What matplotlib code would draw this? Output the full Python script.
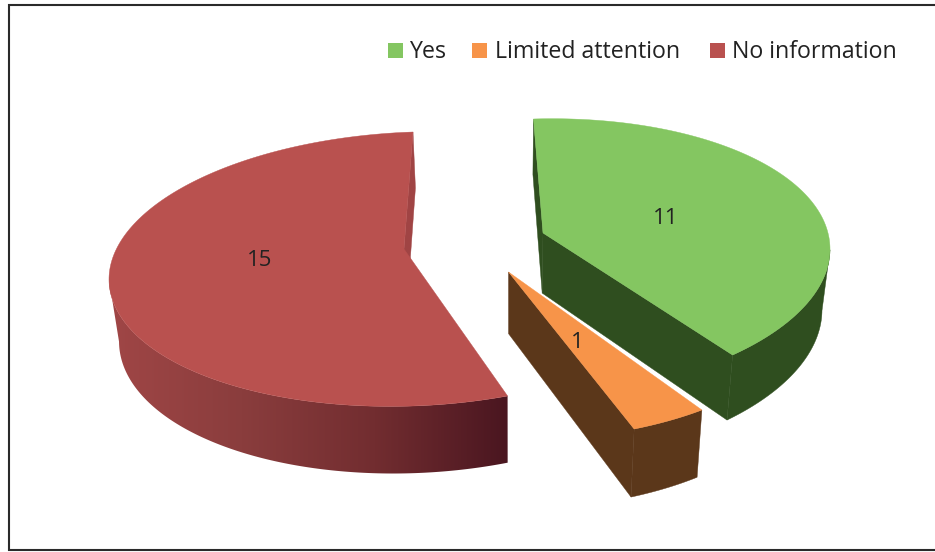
import numpy as np
import matplotlib
matplotlib.use('Agg')
import matplotlib.pyplot as plt
from matplotlib.colors import LinearSegmentedColormap
from matplotlib.patches import Polygon, Rectangle

# ============================================
# DATA
# ============================================
categories = ['Yes', 'Limited attention', 'No information']
values = [11, 1, 15]
top_colors = ['#84C661', '#F79449', '#B9514F']
side_colors = ['#2F4E1F', '#5B371A', None]

plt.rcParams['font.family'] = ['Open Sans', 'DejaVu Sans']

# ============================================
# 3D GEOMETRY per slice (pixel space of the picture)
# cx, cy, rx, ry: ellipse of the top face; k: tilt; b: perspective pull
# ============================================
geom = [
    dict(cx=533.5, cy=258, rx=296.5, ry=139, k=-0.03, b=0.126, apex=(543, 233), start_face=True),
    dict(cx=514, cy=314.5, rx=288, ry=126, k=0.0, b=0.107, apex=(508.5, 272), start_face=False),
    dict(cx=413, cy=269, rx=304, ry=137, k=-0.034, b=-0.05, apex=(404, 249), start_face=False),
]
label_pos = [(666, 218), (577, 342), (260, 261)]
red_side = LinearSegmentedColormap.from_list('red_side', ['#A04646', '#8A3D3D', '#722D30', '#4A1620'])
back_red = '#A04444'


def lower(x, y):
    # bottom face: slightly smaller and pushed down
    x = np.asarray(x, dtype=float)
    y = np.asarray(y, dtype=float)
    return 510 + 0.975 * (x - 510), y + 55.5 + 0.0405 * (y - 119.5)


def rim(g, theta):
    # data angle (clockwise from top) -> point on the ellipse
    z = np.sin(theta) + 1j * np.cos(theta)
    w = (z + 1j * g['b']) / (1 - 1j * g['b'] * z)
    t = np.arctan2(w.real, w.imag)
    x = g['cx'] + g['rx'] * np.sin(t)
    y = g['cy'] - g['ry'] * np.cos(t) + g['k'] * g['rx'] * np.sin(t)
    return x, y


fig = plt.figure(figsize=(9.35, 5.52), dpi=100)
ax = fig.add_axes([0, 0, 1, 1])

# frame, open on the right side
ax.plot([935, 8.5, 8.5, 935], [4.5, 4.5, 550, 550], color='#2A2A2A', lw=1.5, solid_joinstyle='miter')

edges = np.cumsum([0] + values) / sum(values) * 2 * np.pi

for i, g in enumerate(geom):
    theta = np.linspace(edges[i], edges[i + 1], 200)
    xs, ys = rim(g, theta)
    lx, ly = lower(xs, ys)
    ax_, ay_ = g['apex']
    lax, lay = lower(ax_, ay_)
    side = side_colors[i]
    face = side if side else back_red

    # cut faces
    if g['start_face']:
        ax.add_patch(Polygon([(xs[0], ys[0]), (lx[0], ly[0]), (lax, lay), (ax_, ay_)],
                             facecolor=face, edgecolor=face, lw=0.3, zorder=1))
    ax.add_patch(Polygon([(ax_, ay_), (xs[-1], ys[-1]), (lx[-1], ly[-1]), (lax, lay)],
                         facecolor=face, edgecolor=face, lw=0.3, zorder=1))

    # outer wall, only between the silhouette points that face the viewer
    lo = np.argmax(xs)
    hi = np.argmin(xs) if np.argmin(xs) > lo else len(xs) - 1
    wall = np.column_stack([np.r_[xs[lo:hi + 1], lx[lo:hi + 1][::-1]],
                            np.r_[ys[lo:hi + 1], ly[lo:hi + 1][::-1]]])
    if side:
        ax.add_patch(Polygon(wall, facecolor=side, edgecolor=side, lw=0.3, zorder=1))
    else:
        clip = Polygon(wall, transform=ax.transData, facecolor='none', edgecolor='none')
        ax.add_patch(clip)
        gradient = np.linspace(0, 1, 256).reshape(1, -1)
        img = ax.imshow(gradient, extent=(109, 507.5, 480, 270), cmap=red_side, aspect='auto', zorder=1)
        img.set_clip_path(clip)

    # top face
    ax.add_patch(Polygon(np.column_stack([np.r_[ax_, xs], np.r_[ay_, ys]]),
                         facecolor=top_colors[i], edgecolor=top_colors[i], lw=0.3, zorder=2))

for (x, y), v in zip(label_pos, values):
    ax.text(x, y, str(v), fontsize=16, color='#222222', ha='center', va='center', zorder=3)

# ============================================
# LEGEND
# ============================================
swatch_x = [388, 472, 710]
text_x = [409, 495, 732]
for name, c, sx, tx in zip(categories, top_colors, swatch_x, text_x):
    ax.add_patch(Rectangle((sx, 43), 15, 15, facecolor=c, edgecolor='none', zorder=3))
    ax.text(tx, 52, name, fontsize=16.7, color='#222222', ha='left', va='center', zorder=3)

ax.set_xlim(0, 935)
ax.set_ylim(552, 0)
ax.axis('off')

plt.savefig('out.png', dpi=100)
plt.close()
